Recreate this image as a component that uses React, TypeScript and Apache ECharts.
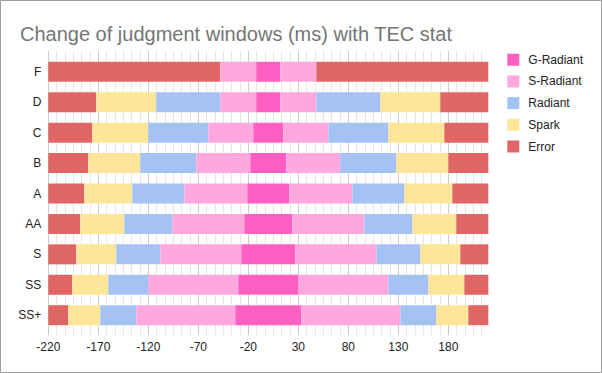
import React, { useEffect, useRef } from "react";
import * as echarts from "echarts";

// Grades, top to bottom
const grades = ["F", "D", "C", "B", "A", "AA", "S", "SS", "SS+"];
// Window half-widths (ms) (symmetric around 0)
const gRadiant = [12, 12, 15, 18, 21, 24, 27, 30, 33];
const sRadiant = [48, 48, 60, 72, 84, 96, 108, 120, 132];
const radiant = [48, 112, 120, 128, 136, 144, 152, 160, 168];
const spark = [48, 172, 176, 180, 184, 188, 192, 196, 200];
const axisMin = -220;
const axisMax = 220;
const tickStep = 50;

const legendNames = ["G-Radiant", "S-Radiant", "Radiant", "Spark", "Error"];
const colors: Record<string, string> = {
  "G-Radiant": "#ff5ec2",
  "S-Radiant": "#ffa8de",
  Radiant: "#a4c2f4",
  Spark: "#ffe599",
  Error: "#e06666",
};

const FONT = "Arial, 'Liberation Sans', sans-serif";

export default function App() {
  const ref = useRef<HTMLDivElement>(null);
  useEffect(() => {
    if (!ref.current) return;
    const chart = echarts.init(ref.current, null, { renderer: "svg" });

    const errL = spark.map((s) => axisMax - s);
    const sparkL = spark.map((s, i) => s - radiant[i]);
    const radL = radiant.map((r, i) => r - sRadiant[i]);
    const sL = sRadiant.map((s, i) => s - gRadiant[i]);
    const gMid = gRadiant.map((g) => 2 * g);
    const base = grades.map(() => axisMin);

    const segs: [string, number[]][] = [
      ["Error", errL],
      ["Spark", sparkL],
      ["Radiant", radL],
      ["S-Radiant", sL],
      ["G-Radiant", gMid],
      ["S-Radiant", sL],
      ["Radiant", radL],
      ["Spark", sparkL],
      ["Error", errL],
    ];

    const barCommon = {
      type: "bar",
      stack: "total",
      stackStrategy: "all",
      xAxisIndex: 2,
      yAxisIndex: 2,
      barWidth: 20,
    };

    const series: any[] = [
      {
        ...barCommon,
        name: "base",
        data: base,
        silent: true,
        itemStyle: { color: "rgba(0,0,0,0)" },
      },
      ...segs.map(([name, data]) => ({
        ...barCommon,
        name,
        data,
        itemStyle: { color: colors[name] },
      })),
    ];

    const gl = 48.33;
    chart.setOption({
      animation: false,
      backgroundColor: "#ffffff",
      title: {
        text: "Change of judgment windows (ms) with TEC stat",
        left: 15,
        top: 19,
        textStyle: { fontSize: 20, fontWeight: "normal", color: "#757575", fontFamily: FONT },
      },
      legend: {
        orient: "vertical",
        left: 502.3,
        top: 48.7,
        data: legendNames,
        icon: "rect",
        itemWidth: 12,
        itemHeight: 12,
        itemGap: 9.7,
        textStyle: { fontSize: 12, color: "#222", fontFamily: FONT, padding: [0, 0, 0, 4], lineHeight: 12 },
      },
      graphic: [
        {
          type: "rect",
          shape: { x: 0.5, y: 0.5, width: 601, height: 372 },
          style: { fill: "none", stroke: "#9e9e9e", lineWidth: 1 },
          silent: true,
        },
      ],
      grid: [
        { left: gl, top: 51, width: 433.33, height: 284 },
        { left: gl, top: 51, width: 400, height: 284 },
        { left: gl, top: 56.6, width: axisMax - axisMin, height: 273.8 },
      ],
      xAxis: [
        {
          gridIndex: 0,
          type: "value",
          min: axisMin,
          max: axisMin + 52 * (tickStep / 6),
          interval: tickStep / 6,
          axisLine: { show: false },
          axisTick: { show: false },
          axisLabel: { show: false },
          splitLine: { show: true, lineStyle: { color: "#e6e6e6", width: 1 } },
        },
        {
          gridIndex: 1,
          type: "value",
          min: axisMin,
          max: axisMin + 8 * tickStep,
          interval: tickStep,
          axisLine: { show: false },
          axisTick: { show: false },
          axisLabel: { show: true, color: "#222", fontSize: 12, fontFamily: FONT, margin: 6 },
          splitLine: { show: true, lineStyle: { color: "#cccccc", width: 1 } },
        },
        {
          gridIndex: 2,
          type: "value",
          min: axisMin,
          max: axisMax,
          show: false,
          splitLine: { show: false },
        },
      ],
      yAxis: [
        { gridIndex: 0, type: "value", show: false, splitLine: { show: false } },
        { gridIndex: 1, type: "value", show: false, splitLine: { show: false } },
        {
          gridIndex: 2,
          type: "category",
          data: grades,
          inverse: true,
          axisLine: { show: false },
          axisTick: { show: false },
          splitLine: { show: false },
          axisLabel: { color: "#222", fontSize: 12, fontFamily: FONT, margin: 7 },
        },
      ],
      series,
    });
    return () => chart.dispose();
  }, []);
  return (
    <div
      ref={ref}
      style={{ position: "fixed", left: 0, top: 0, width: 602, height: 373 }}
    />
  );
}
